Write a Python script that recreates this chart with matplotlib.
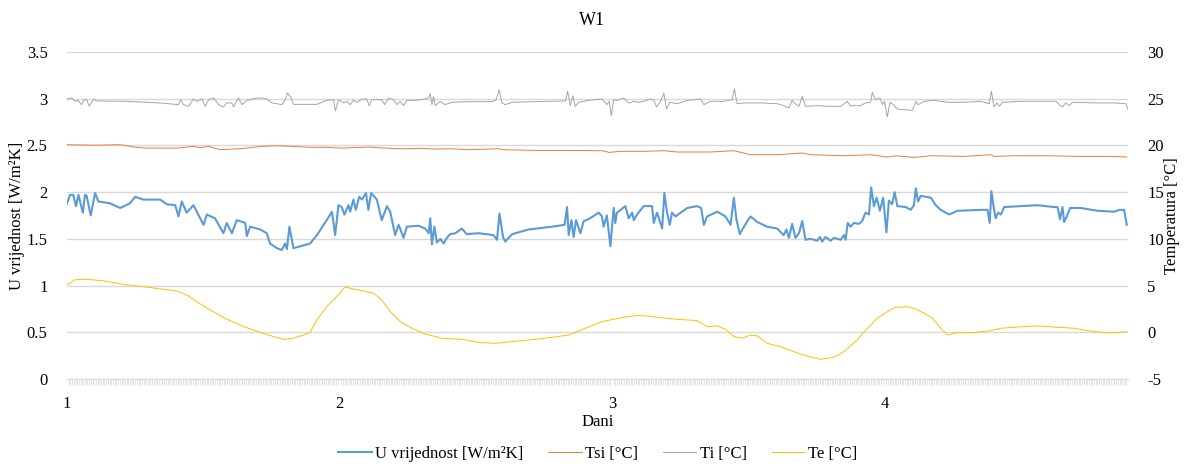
import numpy as np
import matplotlib
matplotlib.use('Agg')
import matplotlib.pyplot as plt
from matplotlib.ticker import FormatStrFormatter

# U vrijednost [W/m2K] (lijeva os)
u_day = [1.000, 1.011, 1.023, 1.033, 1.042, 1.058, 1.066, 1.072, 1.087, 1.103, 1.115, 1.158, 1.195,
         1.231, 1.250, 1.280, 1.342, 1.366, 1.397, 1.409, 1.421, 1.439, 1.464, 1.501, 1.513, 1.543,
         1.574, 1.586, 1.605, 1.623, 1.654, 1.660, 1.672, 1.709, 1.733, 1.745, 1.770, 1.788, 1.800,
         1.807, 1.816, 1.831, 1.856, 1.892, 1.917, 1.953, 1.972, 1.984, 1.996, 2.008, 2.018, 2.033,
         2.039, 2.051, 2.060, 2.072, 2.082, 2.097, 2.106, 2.116, 2.137, 2.155, 2.174, 2.186, 2.204,
         2.217, 2.235, 2.247, 2.290, 2.314, 2.327, 2.333, 2.339, 2.348, 2.357, 2.370, 2.382, 2.394,
         2.406, 2.425, 2.449, 2.467, 2.510, 2.565, 2.578, 2.587, 2.600, 2.608, 2.633, 2.694, 2.780,
         2.826, 2.835, 2.841, 2.851, 2.859, 2.868, 2.884, 2.896, 2.914, 2.951, 2.963, 2.969, 2.981,
         2.994, 3.006, 3.012, 3.018, 3.049, 3.061, 3.074, 3.080, 3.092, 3.116, 3.147, 3.153, 3.165,
         3.184, 3.192, 3.202, 3.212, 3.220, 3.233, 3.276, 3.312, 3.327, 3.337, 3.349, 3.386, 3.416,
         3.435, 3.447, 3.457, 3.469, 3.484, 3.508, 3.533, 3.569, 3.606, 3.630, 3.640, 3.649, 3.661,
         3.673, 3.686, 3.698, 3.710, 3.728, 3.753, 3.763, 3.771, 3.783, 3.802, 3.814, 3.839, 3.851,
         3.857, 3.865, 3.875, 3.888, 3.906, 3.918, 3.930, 3.943, 3.951, 3.961, 3.971, 3.983, 3.995,
         4.007, 4.016, 4.028, 4.037, 4.047, 4.078, 4.096, 4.108, 4.115, 4.123, 4.133, 4.170, 4.188,
         4.206, 4.237, 4.268, 4.353, 4.378, 4.386, 4.392, 4.402, 4.408, 4.417, 4.427, 4.439, 4.500,
         4.561, 4.622, 4.635, 4.644, 4.653, 4.659, 4.669, 4.681, 4.720, 4.782, 4.843, 4.861, 4.879,
         4.889]
u_val = [1.88, 1.97, 1.97, 1.85, 1.97, 1.78, 1.97, 1.96, 1.75, 1.99, 1.90, 1.88, 1.83,
         1.88, 1.95, 1.92, 1.92, 1.87, 1.86, 1.74, 1.90, 1.78, 1.86, 1.65, 1.76, 1.72,
         1.56, 1.67, 1.56, 1.70, 1.67, 1.53, 1.63, 1.60, 1.56, 1.45, 1.40, 1.38, 1.45,
         1.39, 1.63, 1.40, 1.42, 1.45, 1.54, 1.70, 1.79, 1.54, 1.86, 1.84, 1.76, 1.86,
         1.79, 1.92, 1.81, 1.95, 1.92, 1.99, 1.81, 1.99, 1.92, 1.70, 1.85, 1.79, 1.54,
         1.65, 1.51, 1.63, 1.64, 1.61, 1.56, 1.72, 1.44, 1.63, 1.46, 1.50, 1.45, 1.51,
         1.55, 1.56, 1.61, 1.55, 1.56, 1.54, 1.49, 1.77, 1.52, 1.47, 1.55, 1.60, 1.63,
         1.65, 1.84, 1.54, 1.70, 1.52, 1.70, 1.56, 1.69, 1.71, 1.78, 1.74, 1.63, 1.75,
         1.42, 1.83, 1.67, 1.78, 1.85, 1.72, 1.78, 1.70, 1.76, 1.85, 1.85, 1.67, 1.78,
         1.61, 1.99, 1.78, 1.65, 1.78, 1.74, 1.83, 1.85, 1.83, 1.65, 1.74, 1.79, 1.74,
         1.65, 1.94, 1.70, 1.55, 1.63, 1.74, 1.68, 1.63, 1.61, 1.54, 1.60, 1.51, 1.66,
         1.51, 1.56, 1.69, 1.49, 1.50, 1.48, 1.52, 1.47, 1.52, 1.48, 1.51, 1.49, 1.54,
         1.49, 1.67, 1.63, 1.67, 1.66, 1.69, 1.78, 1.76, 2.05, 1.85, 1.94, 1.80, 1.94,
         1.57, 1.91, 1.87, 2.00, 1.85, 1.84, 1.81, 1.86, 2.04, 1.90, 1.96, 1.94, 1.86,
         1.81, 1.76, 1.80, 1.81, 1.81, 1.67, 2.01, 1.81, 1.72, 1.78, 1.76, 1.84, 1.85,
         1.86, 1.84, 1.84, 1.71, 1.84, 1.68, 1.74, 1.83, 1.83, 1.80, 1.79, 1.81, 1.81,
         1.65]

# Tsi [°C] (desna os)
tsi_day = [1.000, 1.100, 1.195, 1.219, 1.256, 1.293, 1.342, 1.403, 1.440, 1.464, 1.489, 1.520,
           1.562, 1.611, 1.660, 1.709, 1.770, 1.831, 1.892, 1.953, 2.008, 2.106, 2.167, 2.229,
           2.300, 2.351, 2.410, 2.474, 2.584, 2.596, 2.718, 2.841, 2.963, 2.990, 3.030, 3.116,
           3.190, 3.239, 3.361, 3.447, 3.508, 3.606, 3.698, 3.728, 3.851, 3.949, 4.010, 4.041,
           4.108, 4.170, 4.292, 4.390, 4.402, 4.476, 4.598, 4.720, 4.843, 4.889]
tsi_val = [20.07, 20.02, 20.07, 19.96, 19.79, 19.71, 19.71, 19.71, 19.82, 19.89, 19.75, 19.89,
           19.54, 19.61, 19.71, 19.89, 19.96, 19.89, 19.79, 19.79, 19.71, 19.82, 19.71, 19.64,
           19.68, 19.61, 19.64, 19.54, 19.64, 19.54, 19.46, 19.46, 19.43, 19.25, 19.36, 19.36,
           19.43, 19.29, 19.29, 19.43, 19.00, 19.00, 19.18, 19.00, 18.89, 19.00, 18.75, 18.89,
           18.71, 18.89, 18.82, 19.00, 18.82, 18.89, 18.89, 18.82, 18.82, 18.75]

# Ti [°C] (desna os)
ti_day = [1.000, 1.017, 1.029, 1.040, 1.054, 1.062, 1.072, 1.082, 1.097, 1.109, 1.219, 1.342,
          1.409, 1.417, 1.427, 1.446, 1.464, 1.476, 1.495, 1.507, 1.520, 1.538, 1.556, 1.574,
          1.586, 1.605, 1.611, 1.629, 1.642, 1.660, 1.696, 1.715, 1.733, 1.752, 1.770, 1.788,
          1.800, 1.809, 1.819, 1.831, 1.917, 1.953, 1.978, 1.985, 1.996, 2.015, 2.027, 2.039,
          2.051, 2.064, 2.082, 2.100, 2.109, 2.119, 2.155, 2.165, 2.180, 2.198, 2.210, 2.223,
          2.235, 2.247, 2.278, 2.314, 2.327, 2.333, 2.339, 2.345, 2.351, 2.370, 2.382, 2.388,
          2.412, 2.474, 2.559, 2.574, 2.586, 2.596, 2.608, 2.633, 2.718, 2.829, 2.837, 2.847,
          2.856, 2.865, 2.878, 2.914, 2.963, 2.981, 2.990, 2.997, 3.006, 3.018, 3.043, 3.061,
          3.080, 3.098, 3.116, 3.141, 3.153, 3.163, 3.178, 3.190, 3.200, 3.212, 3.239, 3.276,
          3.325, 3.337, 3.361, 3.410, 3.441, 3.449, 3.459, 3.484, 3.545, 3.606, 3.630, 3.649,
          3.661, 3.673, 3.686, 3.698, 3.710, 3.753, 3.790, 3.839, 3.863, 3.875, 3.912, 3.930,
          3.949, 3.955, 3.967, 3.983, 3.992, 4.000, 4.010, 4.020, 4.028, 4.047, 4.072, 4.102,
          4.115, 4.123, 4.145, 4.182, 4.231, 4.292, 4.353, 4.384, 4.392, 4.402, 4.412, 4.421,
          4.433, 4.500, 4.561, 4.629, 4.641, 4.653, 4.665, 4.678, 4.690, 4.782, 4.843, 4.886,
          4.892]
ti_val = [24.96, 25.07, 24.71, 24.82, 24.36, 24.89, 24.89, 24.18, 24.96, 24.75, 24.71, 24.54,
          24.36, 24.89, 24.36, 24.18, 24.96, 24.71, 24.96, 24.18, 24.89, 25.07, 24.36, 24.11,
          24.54, 24.54, 24.11, 25.07, 24.36, 24.82, 25.07, 25.07, 24.96, 24.54, 24.46, 24.36,
          24.82, 25.61, 25.25, 24.39, 24.39, 24.82, 24.89, 23.71, 24.89, 24.54, 24.71, 24.36,
          24.82, 24.61, 24.96, 24.96, 24.25, 24.89, 24.89, 24.36, 25.07, 24.89, 24.36, 24.71,
          24.25, 24.82, 24.82, 24.96, 25.07, 25.54, 24.36, 25.25, 24.25, 24.71, 24.46, 24.36,
          24.61, 24.68, 24.68, 24.82, 25.96, 24.54, 24.36, 24.61, 24.68, 24.75, 25.79, 24.25,
          25.32, 24.18, 24.61, 24.82, 24.96, 24.36, 24.71, 23.18, 24.89, 24.79, 25.07, 24.54,
          24.71, 24.61, 24.71, 24.96, 24.89, 24.11, 24.71, 25.61, 23.89, 24.61, 24.46, 24.82,
          24.96, 24.36, 24.71, 24.71, 24.89, 26.04, 24.46, 24.54, 24.54, 24.46, 24.25, 24.00,
          24.82, 24.46, 24.18, 25.25, 24.18, 24.25, 24.18, 24.18, 24.71, 24.25, 24.25, 24.54,
          24.61, 25.68, 24.89, 25.07, 24.39, 24.71, 23.04, 24.61, 24.46, 23.89, 23.82, 23.75,
          24.71, 24.36, 24.71, 24.82, 24.61, 24.61, 24.71, 24.46, 25.79, 24.11, 24.54, 24.18,
          24.61, 24.71, 24.71, 24.71, 24.36, 24.11, 24.54, 24.25, 24.61, 24.54, 24.54, 24.46,
          23.89]

# Te [°C] (desna os)
te_day = [1.000, 1.029, 1.060, 1.097, 1.133, 1.170, 1.219, 1.280, 1.342, 1.397, 1.439, 1.488,
          1.537, 1.586, 1.648, 1.709, 1.758, 1.795, 1.831, 1.868, 1.892, 1.917, 1.953, 1.990,
          2.021, 2.051, 2.082, 2.125, 2.155, 2.186, 2.223, 2.266, 2.314, 2.376, 2.449, 2.510,
          2.571, 2.633, 2.718, 2.780, 2.841, 2.902, 2.963, 3.043, 3.092, 3.129, 3.178, 3.239,
          3.312, 3.349, 3.386, 3.416, 3.447, 3.478, 3.508, 3.533, 3.569, 3.618, 3.667, 3.716,
          3.765, 3.814, 3.851, 3.900, 3.937, 3.973, 4.010, 4.041, 4.059, 4.084, 4.108, 4.145,
          4.176, 4.206, 4.231, 4.268, 4.329, 4.390, 4.427, 4.476, 4.561, 4.635, 4.696, 4.745,
          4.806, 4.855, 4.889]
te_val = [5.10, 5.61, 5.68, 5.61, 5.50, 5.32, 5.07, 4.89, 4.64, 4.46, 4.00, 3.04,
          2.21, 1.39, 0.61, 0.00, -0.46, -0.75, -0.64, -0.29, 0.00, 1.32, 2.75, 3.82,
          4.86, 4.61, 4.46, 4.18, 3.46, 2.21, 1.14, 0.43, -0.18, -0.64, -0.75, -1.07,
          -1.18, -1.00, -0.75, -0.54, -0.29, 0.43, 1.14, 1.61, 1.79, 1.75, 1.57, 1.39,
          1.25, 0.61, 0.68, 0.32, -0.46, -0.64, -0.29, -0.39, -1.18, -1.54, -2.07, -2.54,
          -2.89, -2.68, -2.07, -0.82, 0.43, 1.50, 2.21, 2.68, 2.68, 2.75, 2.57, 2.04,
          1.50, 0.43, -0.29, -0.04, -0.04, 0.18, 0.43, 0.54, 0.68, 0.54, 0.43, 0.18,
          -0.04, -0.04, 0.07]

day_ticks = [1, 2, 3, 4]

plt.rcParams['font.family'] = ['Liberation Serif', 'DejaVu Serif']
plt.rcParams['font.size'] = 12
plt.rcParams['axes.unicode_minus'] = False

fig = plt.figure(figsize=(11.84, 4.72), dpi=100)
ax = fig.add_axes([0.0566, 0.197, 0.896, 0.693])
ax2 = ax.twinx()

ax.plot(u_day, u_val, color='#5B9BD5', lw=1.5, label='U vrijednost [W/m²K]', zorder=3)
l1, = ax2.plot(tsi_day, tsi_val, color='#ED7D31', lw=0.7, label='Tsi [°C]')
l2, = ax2.plot(ti_day, ti_val, color='#A5A5A5', lw=0.7, label='Ti [°C]')
l3, = ax2.plot(te_day, te_val, color='#FFC000', lw=0.7, label='Te [°C]')

ax.set_xlim(1.0, 4.893)
ax.set_ylim(0, 3.5)
ax2.set_ylim(-5, 30)
ax.set_yticks(np.arange(0, 3.51, 0.5))
ax.yaxis.set_major_formatter(FormatStrFormatter('%g'))
ax2.set_yticks(np.arange(-5, 31, 5))

ax.set_xticks(day_ticks)
ax.set_xticklabels([str(d) for d in day_ticks])
ax.set_xticks(np.arange(1.0, 4.893, 1 / 160), minor=True)
ax.tick_params(axis='x', which='major', length=0, pad=12, labelsize=12)
ax.tick_params(axis='x', which='minor', length=4, width=0.5, color='#DADADA', direction='out')
ax.tick_params(axis='y', length=0, pad=14, labelsize=12)
ax2.tick_params(axis='y', length=0, pad=14, labelsize=12)

ax.grid(axis='y', color='#D9D9D9', lw=1.0)
ax.set_axisbelow(True)
for a in (ax, ax2):
    for s in a.spines.values():
        s.set_visible(False)
ax.spines['bottom'].set_visible(True)
ax.spines['bottom'].set_color('#D9D9D9')

ax.set_ylabel('U vrijednost [W/m²K]', fontsize=12)
ax.yaxis.set_label_coords(-0.040, 0.5)
ax2.set_ylabel('Temperatura [°C]', fontsize=12)
ax2.yaxis.set_label_coords(1.034, 0.5)
ax.set_xlabel('Dani', fontsize=12, labelpad=2)
fig.suptitle('W1', y=0.975, fontsize=13)

h1, lab1 = ax.get_legend_handles_labels()
fig.legend(h1 + [l1, l2, l3], lab1 + ['Tsi [°C]', 'Ti [°C]', 'Te [°C]'],
           loc='lower center', bbox_to_anchor=(0.505, -0.01), ncol=4, frameon=False,
           handlelength=2.0, handletextpad=0.2, columnspacing=1.5, fontsize=12)

fig.savefig('out.png', dpi=100)
